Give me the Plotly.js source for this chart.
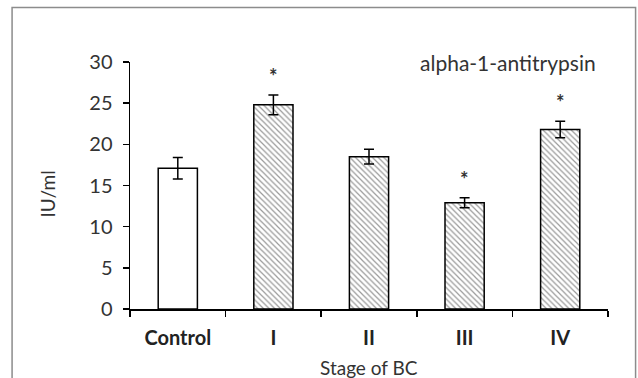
<!DOCTYPE html>
<html><head><meta charset="utf-8">
<script src="https://cdn.plot.ly/plotly-3.0.1.min.js"></script>
<style>html,body{margin:0;padding:0;background:#fff;}#chart{width:638px;height:378px;}</style>
</head><body><div id="chart"></div>
<script>
const categories = ["Control", "I", "II", "III", "IV"];
const means = [17.1, 24.8, 18.5, 12.9, 21.8];
const errors = [1.3, 1.2, 0.9, 0.6, 1.0];
const significant = [false, true, false, true, true];
const yTicks = [0, 5, 10, 15, 20, 25, 30];

const font = "Lato, 'Open Sans', sans-serif";
const trace = {
  type: "bar",
  x: categories,
  y: means,
  width: 0.41,
  marker: {
    color: "white",
    line: {color: "black", width: 1.5},
    pattern: {
      shape: categories.map((c, i) => i === 0 ? "" : "\\"),
      fgcolor: "#9a9a9a",
      bgcolor: "white",
      size: 4,
      solidity: 0.3
    }
  },
  error_y: {type: "data", array: errors, visible: true, color: "black", thickness: 1.5, width: 5},
  hoverinfo: "none"
};

const annotations = [];
categories.forEach((c, i) => {
  if (significant[i]) {
    annotations.push({x: c, y: means[i] + errors[i], xref: "x", yref: "y", text: "<b>*</b>", showarrow: false,
      yanchor: "middle", yshift: 19, font: {family: font, size: 20, color: "#333"}});
  }
});
annotations.push({x: 1, y: 1.0, xref: "paper", yref: "paper", xanchor: "right", yanchor: "middle",
  xshift: -10, yshift: 0, text: "alpha-1-antitrypsin", showarrow: false, font: {family: font, size: 21, color: "#333"}});
annotations.push({x: 0, y: 0.5, xref: "paper", yref: "paper", xanchor: "center", yanchor: "middle",
  xshift: -83, yshift: -9, textangle: -90, text: "IU/ml", showarrow: false, font: {family: font, size: 19, color: "#333"}});
annotations.push({x: 0.5, y: 0, xref: "paper", yref: "paper", xanchor: "center", yanchor: "middle",
  yshift: -58, text: "Stage of BC", showarrow: false, font: {family: font, size: 19, color: "#333"}});

const layout = {
  width: 638, height: 378,
  margin: {l: 130, r: 30, t: 62, b: 69},
  paper_bgcolor: "white", plot_bgcolor: "white",
  showlegend: false,
  xaxis: {
    type: "category",
    tickson: "boundaries",
    ticks: "outside", ticklen: 6, tickwidth: 1.5, tickcolor: "black",
    showline: true, linecolor: "black", linewidth: 1.5,
    showgrid: false, zeroline: false,
    ticklabelstandoff: 10,
    tickfont: {family: font, size: 20, color: "#222", weight: "bold"},
    fixedrange: true
  },
  yaxis: {
    range: [0, 30],
    tickvals: yTicks,
    ticks: "outside", ticklen: 6, tickwidth: 1.5, tickcolor: "black",
    showline: true, linecolor: "black", linewidth: 1.5,
    showgrid: false, zeroline: false,
    ticklabelstandoff: 6,
    tickfont: {family: font, size: 20, color: "#333"},
    fixedrange: true
  },
  annotations: annotations,
  shapes: [{
    type: "path", xref: "paper", yref: "paper",
    path: "M -0.2467 -0.4 L -0.2467 1.221 L 1.0577 1.221 L 1.0577 -0.4",
    line: {color: "#8c8c8c", width: 1.5}
  }]
};

Plotly.newPlot("chart", [trace], layout, {staticPlot: true, displayModeBar: false});
</script></body></html>
